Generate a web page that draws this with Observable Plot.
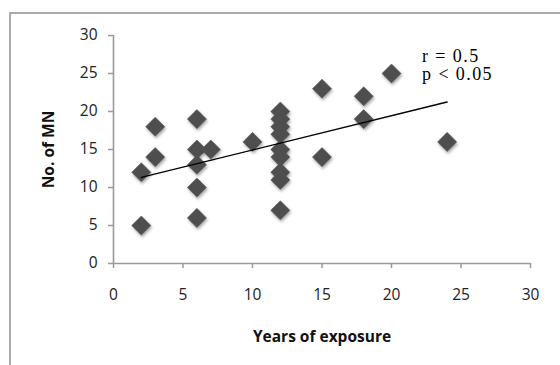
<!DOCTYPE html>
<html>
<head>
<meta charset="utf-8">
<script src="https://cdn.jsdelivr.net/npm/d3@7"></script>
<script src="https://cdn.jsdelivr.net/npm/@observablehq/plot@0.6"></script>
<style>
  html, body { margin: 0; padding: 0; background: #fff; overflow: hidden; }
  #wrap { position: relative; width: 560px; height: 365px; }
  #box { position: absolute; left: 9px; top: 12px; width: 600px; height: 400px;
         border-left: 2px solid #aaa; border-top: 2px solid #aaa; }
  #chart { position: absolute; left: 0; top: 0; }
  .dots path { filter: drop-shadow(1.5px 2px 1.5px rgba(0,0,0,0.35)); }
  .stat text { letter-spacing: 1.4px; }
</style>
</head>
<body>
<div id="wrap"><div id="box"></div><div id="chart"></div></div>
<script>
// Years of exposure (x) and number of MN (y) for each subject
const years = [2, 2, 3, 3, 6, 6, 6, 6, 6, 7, 10, 12, 12, 12, 12, 12, 12, 12, 12, 12, 15, 15, 18, 18, 20, 24];
const mn    = [12, 5, 18, 14, 19, 15, 13, 10, 6, 15, 16, 20, 19, 18, 17, 15, 14, 12, 11, 7, 23, 14, 22, 19, 25, 16];
const xTicks = [0, 5, 10, 15, 20, 25, 30];
const yTicks = [0, 5, 10, 15, 20, 25, 30];
const statText = "r = 0.5\np < 0.05";
const statX = 22.2;
const statY = 28.25;

const data = years.map((x, i) => ({x, y: mn[i]}));

const axisColor = "#999";
const chart = Plot.plot({
  width: 560,
  height: 365,
  marginLeft: 113,
  marginRight: 30,
  marginTop: 35,
  marginBottom: 102,
  style: {fontFamily: "'Open Sans', sans-serif", fontSize: "15.5px", color: "#222", background: "transparent"},
  x: {domain: [0, 30], ticks: xTicks},
  y: {domain: [0, 30], ticks: yTicks},
  marks: [
    Plot.axisY({ticks: yTicks, tickSize: 5, tickPadding: 11, stroke: axisColor, strokeWidth: 1.5, fill: "#222", label: null, fontSize: 15.5}),
    Plot.axisX({ticks: xTicks, tickSize: 5, tickPadding: 20, stroke: axisColor, strokeWidth: 1.5, fill: "#222", label: null, fontSize: 15.5}),
    Plot.ruleX([0], {stroke: axisColor, strokeWidth: 1.6}),
    Plot.ruleY([0], {stroke: axisColor, strokeWidth: 1.6}),
    Plot.dot(data, {x: "x", y: "y", symbol: "diamond2", r: 8.6, fill: "#4e4e4e", stroke: "#5a5a5a", strokeWidth: 0.6, className: "dots"}),
    Plot.linearRegressionY(data, {x: "x", y: "y", ci: 0, stroke: "#000", strokeWidth: 1.4}),
    Plot.text([statText], {x: () => statX, y: () => statY, text: d => d, textAnchor: "start", lineAnchor: "top", lineHeight: 1.0, fontFamily: "'Liberation Serif', 'Times New Roman', serif", fontSize: 18, fill: "#000", className: "stat"}),
    Plot.text(["No. of MN"], {frameAnchor: "left", dx: -64, rotate: -90, textAnchor: "middle", lineAnchor: "middle", fontWeight: "bold", fontSize: 15.5, fill: "#111"}),
    Plot.text(["Years of exposure"], {frameAnchor: "bottom", dy: 74, textAnchor: "middle", lineAnchor: "middle", fontWeight: "bold", fontSize: 15.5, fill: "#111"})
  ]
});
document.getElementById("chart").appendChild(chart);
</script>
</body>
</html>
